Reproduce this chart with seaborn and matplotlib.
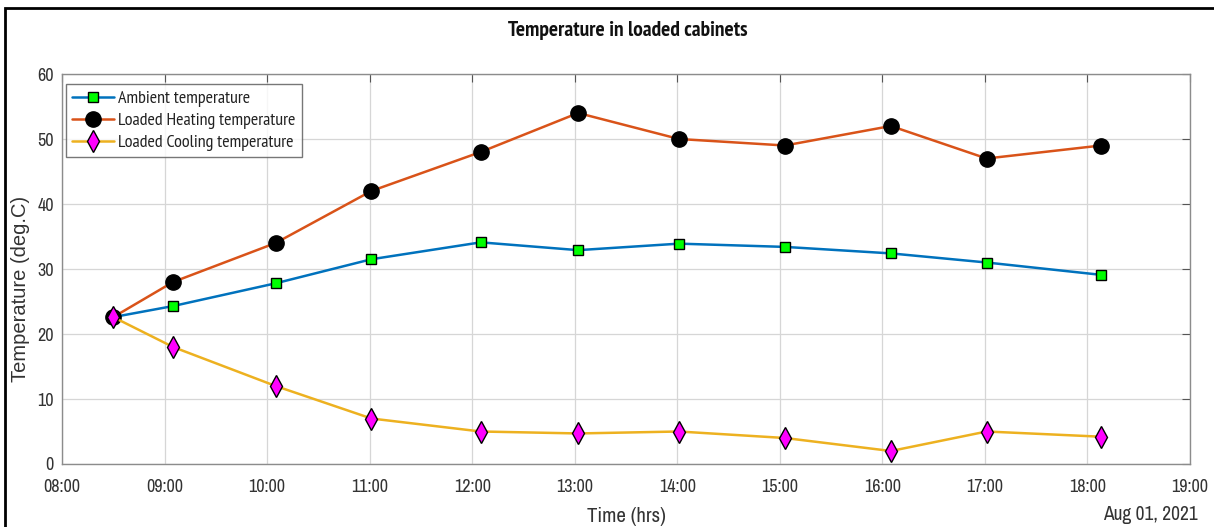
import pandas as pd
import matplotlib
matplotlib.use("Agg")
import matplotlib.pyplot as plt
import matplotlib.dates as mdates
import seaborn as sns

# --------------------------------------------------
# DATA
# --------------------------------------------------

times = [
    "08:30", "09:05", "10:05", "11:01", "12:05", "13:02",
    "14:01", "15:03", "16:05", "17:01", "18:08"
]

ambient = [22.6, 24.3, 27.8, 31.5, 34.1, 32.9, 33.9, 33.4, 32.4, 31.0, 29.1]
heating = [22.6, 28.0, 34.0, 42.0, 48.0, 54.0, 50.0, 49.0, 52.0, 47.0, 49.0]
cooling = [22.6, 18.0, 12.0, 7.0, 5.0, 4.7, 5.0, 4.0, 2.0, 5.0, 4.2]

labels = [
    "Ambient temperature",
    "Loaded Heating temperature",
    "Loaded Cooling temperature"
]

t = pd.to_datetime(["2021-08-01 " + s for s in times])

df = pd.DataFrame({
    "time": list(t) * 3,
    "temp": ambient + heating + cooling,
    "series": [labels[0]] * 11 + [labels[1]] * 11 + [labels[2]] * 11
})

# --------------------------------------------------
# STYLE
# --------------------------------------------------

sns.set_style("white")
NARROW = ["Archivo Narrow", "PT Sans Narrow", "Liberation Sans", "DejaVu Sans"]
PT = ["PT Sans Narrow", "Archivo Narrow", "DejaVu Sans"]
plt.rcParams["font.family"] = NARROW

fig = plt.figure(figsize=(12.14, 5.27), dpi=100)
ax = fig.add_axes([62 / 1214, 1 - 464 / 527, 1128 / 1214, 390 / 527])

line_colors = ["#0072BD", "#D95319", "#EDB120"]
markers = ["s", "o", "d"]
face_colors = ["#00FF00", "#000000", "#FF00FF"]
sizes = [7, 11, 11]

for lab, lc, mk, fc, ms in zip(labels, line_colors, markers, face_colors, sizes):
    sub = df[df["series"] == lab]
    sns.lineplot(
        data=sub, x="time", y="temp", ax=ax,
        color=lc, linewidth=1.8,
        marker=mk, markersize=ms,
        markerfacecolor=fc, markeredgecolor="black", markeredgewidth=1.0,
        label=lab
    )

# --------------------------------------------------
# AXES
# --------------------------------------------------

ax.set_xlim(pd.Timestamp("2021-08-01 08:00"), pd.Timestamp("2021-08-01 19:00"))
ax.set_ylim(0, 60)
ax.xaxis.set_major_locator(mdates.HourLocator())
ax.xaxis.set_major_formatter(mdates.DateFormatter("%H:%M"))
ax.set_yticks(range(0, 61, 10))

ax.grid(True, color="#d6d6d6", linewidth=0.9)
for sp in ax.spines.values():
    sp.set_color("#8c8c8c")
    sp.set_linewidth(1.0)

ax.tick_params(
    axis="both", direction="in", length=6, width=0.8,
    color="#555555", labelsize=13, labelcolor="#333333", pad=6,
    top=True, right=True
)
ax.tick_params(axis="x", pad=11)

ax.set_xlabel("")
ax.set_ylabel("Temperature (deg.C)", fontsize=14.5, color="#333333",
              family=["Liberation Sans", "DejaVu Sans"])
ax.yaxis.set_label_coords(-0.028, 0.45)

fig.text(626 / 1214, 1 - 517 / 527, "Time (hrs)", ha="center", va="center",
         fontsize=15, color="#333333")
fig.text(1150 / 1214, 1 - 515 / 527, "Aug 01, 2021", ha="center", va="center",
         fontsize=14, color="#333333")
fig.text(628 / 1214, 1 - 30 / 527, "Temperature in loaded cabinets", ha="center",
         va="center", fontsize=15.5, fontweight="bold", color="#111111",
         family=PT)

leg = ax.legend(loc="upper left", bbox_to_anchor=(4 / 1128, (464 - 84) / 390),
                borderaxespad=0, prop={"family": PT, "size": 13},
                frameon=True, fancybox=False, handlelength=2.3,
                labelspacing=0.3, borderpad=0.35, handletextpad=0.25)
leg.get_frame().set_edgecolor("#555555")
leg.get_frame().set_linewidth(1.0)
for txt in leg.get_texts():
    txt.set_color("#222222")

# figure frame
fig.patches.append(plt.Rectangle((5 / 1214, -0.02), 1.1, 1 - 8 / 527 + 0.02,
                                 transform=fig.transFigure, fill=False,
                                 edgecolor="black", linewidth=2.0))

fig.savefig("out.png", dpi=100)
